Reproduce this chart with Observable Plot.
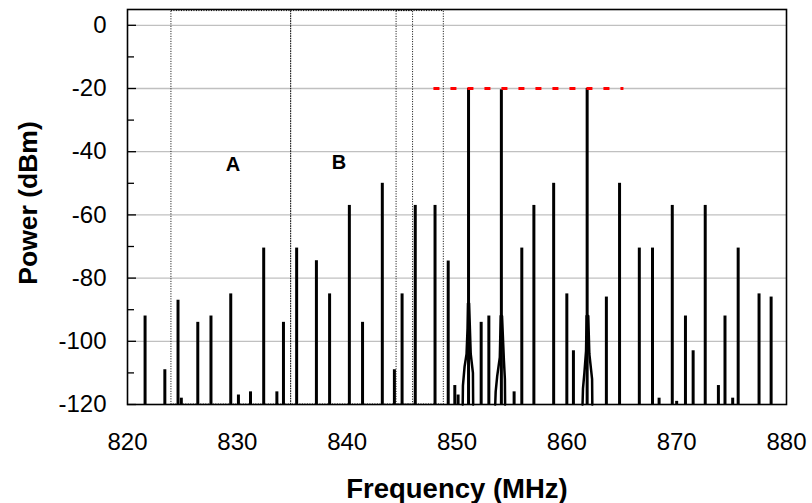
<!DOCTYPE html>
<html>
<head>
<meta charset="utf-8">
<script src="https://cdn.jsdelivr.net/npm/d3@7"></script>
<script src="https://cdn.jsdelivr.net/npm/@observablehq/plot@0.6"></script>
<style>
  html, body { margin: 0; padding: 0; background: #fff; }
  #chart { width: 812px; height: 503px; }
</style>
</head>
<body>
<div id="chart"></div>
<script>
// Spectrum lines: frequency (MHz) and peak power (dBm)
const freqs = [821.6, 823.4, 824.6, 824.9, 826.4, 827.6, 829.4, 830.1, 831.2, 832.4, 833.6, 834.2,
  835.4, 837.2, 838.4, 840.2, 841.4, 843.2, 844.3, 845.0, 846.2, 848.0, 849.2, 849.8, 850.1,
  851.05, 852.2, 852.9, 854.04, 855.2, 855.9, 857.0, 858.8, 860.0, 860.6, 861.85, 863.6, 864.8,
  866.6, 867.8, 868.4, 869.6, 870.0, 870.8, 871.5, 872.6, 873.8, 874.4, 875.1, 875.6, 877.5, 878.6];
const powers = [-92, -109, -87, -118, -94, -92, -85, -117, -116, -70.5, -116, -94,
  -70.5, -74.5, -85, -57, -94, -50, -109, -85, -57, -57, -74.6, -114, -117,
  -20, -94, -92, -20.4, -116, -70.5, -57, -50, -85, -103, -20, -86, -50,
  -70.5, -70.5, -118, -57, -119, -92, -103, -57, -114, -92, -118, -70.5, -85, -86];

// Noise skirts around the three main carriers
const skirt1F = [850.52, 850.54, 850.69, 850.87, 850.96, 851.0, 851.1, 851.25, 851.45, 851.47];
const skirt1P = [-120, -114, -108, -104, -96, -88, -88, -104, -110, -120];
const skirt2F = [853.48, 853.52, 853.66, 853.9, 853.98, 854.1, 854.27, 854.36, 854.38];
const skirt2P = [-120, -116, -111, -105, -92, -92, -106, -112, -120];
const skirt3F = [861.43, 861.47, 861.6, 861.75, 861.8, 861.95, 862.05, 862.3, 862.32];
const skirt3P = [-120, -115, -110, -103, -92, -92, -104, -112, -120];

// Dotted band boxes
const boxStart = [824.0, 834.9, 844.5];
const boxEnd = [834.9, 846.0, 848.8];
const boxTop = 4.5;

// Red reference level
const refLevel = -20;
const refStart = 847.9;
const refEnd = 865.2;

// Band labels
const bandNames = ["A", "B"];
const bandX = [829.6, 839.25];
const bandY = [-44.1, -43.4];

// Axes
const xTicks = [820, 830, 840, 850, 860, 870, 880];
const yTicks = [0, -20, -40, -60, -80, -100, -120];
const yMinor = [-10, -30, -50, -70, -90, -110];
const yDomain = [-120, 5];
const xDomain = [820, 880];
const floor = -120;

const xTitle = "Frequency (MHz)";
const yTitle = "Power (dBm)";

const spikes = freqs.map((f, i) => ({f, p: powers[i]}));
const skirts = [
  ...skirt1F.map((f, i) => ({g: 1, f, p: skirt1P[i]})),
  ...skirt2F.map((f, i) => ({g: 2, f, p: skirt2P[i]})),
  ...skirt3F.map((f, i) => ({g: 3, f, p: skirt3P[i]}))
];
const boxes = boxStart.map((s, i) => ({s, e: boxEnd[i]}));
const bands = bandNames.map((n, i) => ({n, x: bandX[i], y: bandY[i]}));

const chart = Plot.plot({
  width: 812,
  height: 503,
  marginLeft: 127,
  marginRight: 26,
  marginTop: 9,
  marginBottom: 99,
  style: {fontFamily: "'Liberation Sans', Arial, sans-serif", background: "#fff", color: "#000"},
  x: {domain: xDomain},
  y: {domain: yDomain},
  marks: [
    Plot.gridY(yTicks.filter(d => d > floor), {stroke: "#c0c0c0", strokeOpacity: 1, strokeWidth: 1.3}),
    Plot.rect(boxes, {x1: "s", x2: "e", y1: floor, y2: boxTop, fill: "none", stroke: "#000", strokeWidth: 1, strokeDasharray: "1,1.5"}),
    Plot.ruleX(spikes, {x: "f", y1: floor, y2: "p", stroke: "#000", strokeWidth: 3}),
    Plot.line(skirts, {x: "f", y: "p", z: "g", stroke: "#000", strokeWidth: 2.5, curve: "linear"}),
    Plot.ruleY([refLevel], {x1: refStart, x2: refEnd, stroke: "#ff0000", strokeWidth: 3, strokeDasharray: "6,11"}),
    Plot.text(bands, {x: "x", y: "y", text: "n", fontSize: 20, fontWeight: "bold", fill: "#000"}),
    Plot.axisX({ticks: xTicks, tickSize: 0, tickPadding: 28, fontSize: 24, label: null, tickFormat: d => String(d)}),
    Plot.axisY({ticks: yTicks, tickSize: 0, tickPadding: 21, fontSize: 24, label: null, tickFormat: d => String(d)}),
    Plot.axisY({ticks: yTicks, tickSize: 9, dx: 9, text: null, label: null, strokeWidth: 1.3}),
    Plot.axisY({ticks: yMinor, tickSize: 7, dx: 7, text: null, label: null, strokeWidth: 1.3}),
    Plot.frame({stroke: "#000", strokeWidth: 1.6}),
    Plot.text([xTitle], {frameAnchor: "bottom", lineAnchor: "middle", textAnchor: "middle", dy: 85, fontSize: 27.5, fontWeight: "bold", fill: "#000"}),
    Plot.text([yTitle], {frameAnchor: "left", lineAnchor: "middle", textAnchor: "middle", dx: -99, dy: -4, rotate: -90, fontSize: 26.5, fontWeight: "bold", fill: "#000"})
  ]
});
document.getElementById("chart").appendChild(chart);
</script>
</body>
</html>
